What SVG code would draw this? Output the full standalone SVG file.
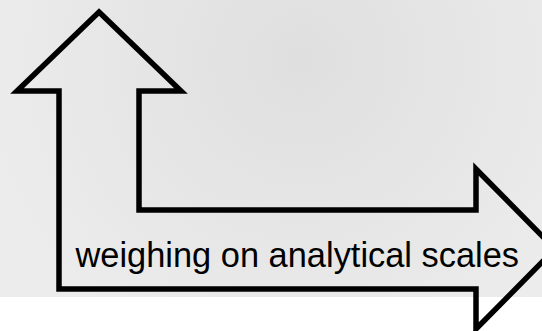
<svg xmlns="http://www.w3.org/2000/svg" width="542" height="331" viewBox="0 0 542 331">
  <defs>
    <radialGradient id="bg" cx="300" cy="60" r="320" gradientUnits="userSpaceOnUse">
      <stop offset="0" stop-color="#dfdfdf"/>
      <stop offset="1" stop-color="#ececec"/>
    </radialGradient>
  </defs>
  <style>
    .arrow { fill: none; stroke: #000; stroke-width: 5.5; stroke-linejoin: miter; stroke-miterlimit: 10; }
    .label { font-family: "Liberation Sans", Arial, sans-serif; font-size: 34.4px; fill: #000; }
  </style>
  <rect x="0" y="0" width="542" height="331" fill="#ffffff"/>
  <rect x="0" y="0" width="542" height="297" fill="url(#bg)"/>
  <g id="bent-arrow">
    <path class="arrow" d="M99,12 L181,91 L139,91 L139,210 L476,210 L476,169 L555,249 L476,329 L476,289 L59,289 L59,91 L17,91 Z"/>
    <text class="label" x="75.5" y="267">weighing on analytical scales</text>
  </g>
</svg>
